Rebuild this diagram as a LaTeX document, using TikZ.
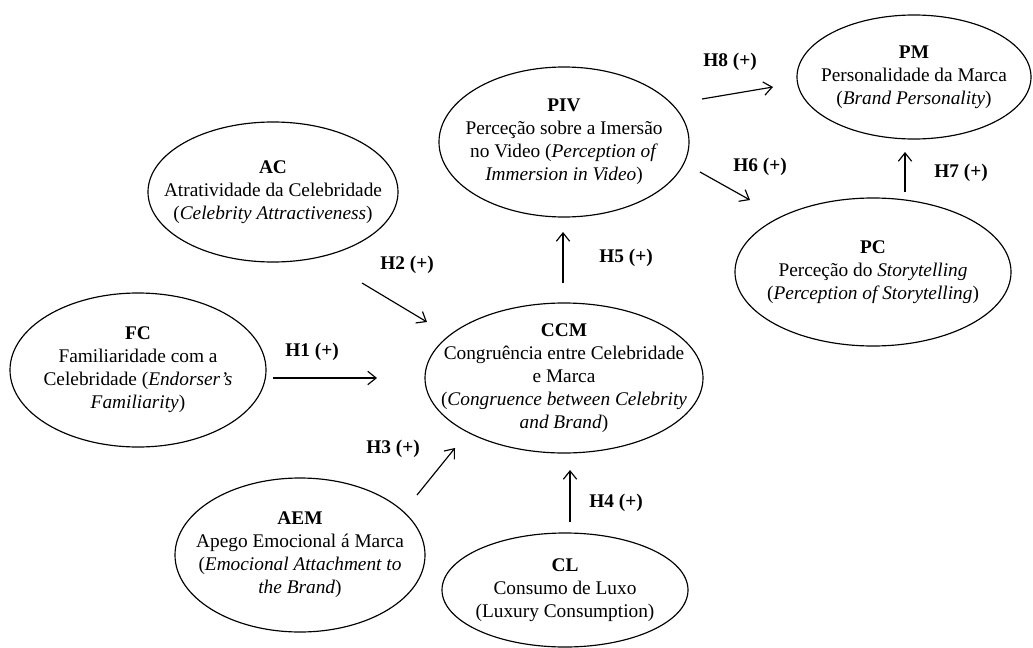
\documentclass[tikz,border=0pt]{standalone}
\usepackage{fontspec}
\setmainfont{Liberation Serif}
\usepackage{tikz}
\usetikzlibrary{shapes, arrows.meta, positioning}
\tikzstyle{construct} = [draw, ellipse, line width=0.7pt, align=center,
    inner xsep=-30pt, inner ysep=-25pt]
\tikzstyle{hyp} = [font=\fontsize{11.6}{13.8}\selectfont\bfseries]

\begin{document}
\begin{tikzpicture}[x=0.6pt, y=-0.6pt, font=\fontsize{11.6}{13.8}\selectfont,
    >={Straight Barb[length=5pt,width=8pt]}, line width=0.7pt]
        \useasboundingbox (0,0) rectangle (1033,648);
        % constructs
        \node[construct, name=ac, minimum width=150pt, minimum height=84pt] at (273,192) (ac)
            {\textbf{AC}\\Atratividade da Celebridade\\(\textit{Celebrity Attractiveness})};
        \node[construct, name=fc, minimum width=153.6pt, minimum height=92.4pt] at (138,370) (fc)
            {\textbf{FC}\\Familiaridade com a\\Celebridade (\textit{Endorser’s}\\\textit{Familiarity})};
        \node[construct, name=aem, minimum width=150pt, minimum height=92.4pt] at (300,555) (aem)
            {\textbf{AEM}\\Apego Emocional á Marca\\(\textit{Emocional Attachment to}\\\textit{the Brand})};
        \node[construct, name=ccm, minimum width=166.8pt, minimum height=90pt] at (564,378) (ccm)
            {\textbf{CCM}\\Congruência entre Celebridade\\e Marca\\(\textit{Congruence between Celebrity}\\\textit{and Brand})};
        \node[construct, name=cl, minimum width=147.6pt, minimum height=68.4pt] at (565,590) (cl)
            {\textbf{CL}\\Consumo de Luxo\\(Luxury Consumption)};
        \node[construct, name=piv, minimum width=150pt, minimum height=90pt] at (564,142) (piv)
            {\textbf{PIV}\\Perceção sobre a Imersão\\no Video (\textit{Perception of}\\\textit{Immersion in Video})};
        \node[construct, name=pm, minimum width=140.4pt, minimum height=74.4pt] at (914,77) (pm)
            {\textbf{PM}\\Personalidade da Marca\\(\textit{Brand Personality})};
        \node[construct, name=pc, minimum width=165.6pt, minimum height=88.8pt] at (873,272) (pc)
            {\textbf{PC}\\Perceção do \textit{Storytelling}\\(\textit{Perception of Storytelling})};

        % arrow ends
        \coordinate (h1s) at (273,378); \coordinate (h1e) at (377,378);
        \coordinate (h2s) at (362,283); \coordinate (h2e) at (427,322);
        \coordinate (h3s) at (417,495); \coordinate (h3e) at (455,448);
        \coordinate (h4s) at (570,522); \coordinate (h4e) at (570,470);
        \coordinate (h5s) at (563,283); \coordinate (h5e) at (563,232);
        \coordinate (h6s) at (700,172); \coordinate (h6e) at (750,200);
        \coordinate (h7s) at (905,192); \coordinate (h7e) at (905,152);
        \coordinate (h8s) at (702,99);  \coordinate (h8e) at (773,87);

        \draw[->] (h1s) -- (h1e);
        \draw[->] (h2s) -- (h2e);
        \draw[->] (h3s) -- (h3e);
        \draw[->] (h4s) -- (h4e);
        \draw[->] (h5s) -- (h5e);
        \draw[->] (h6s) -- (h6e);
        \draw[->] (h7s) -- (h7e);
        \draw[->] (h8s) -- (h8e);

        % hypotheses
        \node[hyp, name=h1] at (312,352) (h1) {H1 (+)};
        \node[hyp, name=h2] at (407,265) (h2) {H2 (+)};
        \node[hyp, name=h3] at (393,449) (h3) {H3 (+)};
        \node[hyp, name=h4] at (616,503) (h4) {H4 (+)};
        \node[hyp, name=h5] at (626,258) (h5) {H5 (+)};
        \node[hyp, name=h6] at (760,167) (h6) {H6 (+)};
        \node[hyp, name=h7] at (961,173) (h7) {H7 (+)};
        \node[hyp, name=h8] at (730,62) (h8) {H8 (+)};
\end{tikzpicture}
\end{document}
